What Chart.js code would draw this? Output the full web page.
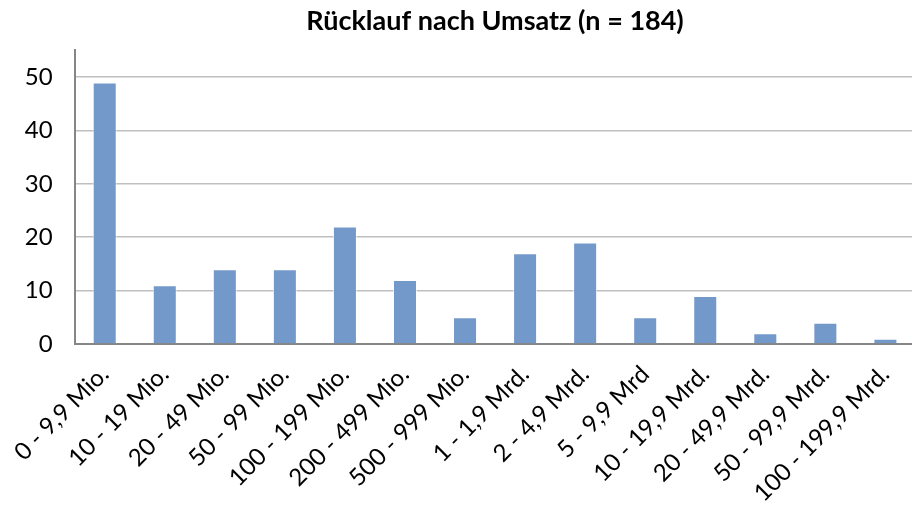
<!DOCTYPE html>
<html>
<head>
<meta charset="utf-8">
<script src="https://cdn.jsdelivr.net/npm/chart.js@4"></script>
<style>
  html, body { margin: 0; padding: 0; background: #fff; overflow: hidden; }
  /* the original plot area runs slightly past the right edge, so the canvas is wider and clipped */
  #wrap { width: 912px; height: 506px; overflow: hidden; }
</style>
</head>
<body>
<div id="wrap"><canvas id="myChart" width="922" height="506"></canvas></div>
<script>
const categories = [
  "0 - 9,9 Mio.", "10 - 19 Mio.", "20 - 49 Mio.", "50 - 99 Mio.",
  "100 - 199 Mio.", "200 - 499 Mio.", "500 - 999 Mio.", "1 - 1,9 Mrd.",
  "2 - 4,9 Mrd.", "5 - 9,9 Mrd", "10 - 19,9 Mrd.", "20 - 49,9 Mrd.",
  "50 - 99,9 Mrd.", "100 - 199,9 Mrd."
];
const counts = [49, 11, 14, 14, 22, 12, 5, 17, 19, 5, 9, 2, 4, 1];
const yTicks = [0, 10, 20, 30, 40, 50];
const chartTitle = "Rücklauf nach Umsatz (n = 184)";

const fontFamily = "Lato, 'Open Sans', sans-serif";

const ctx = document.getElementById("myChart").getContext("2d");

const graphData = {
  type: "bar",
  data: {
    labels: categories,
    datasets: [
      {
        label: "Rücklauf",
        data: counts,
        backgroundColor: "#7399cb",
        borderColor: "rgba(255, 255, 255, 0.7)",
        borderWidth: 1,
        barPercentage: 0.8,
        categoryPercentage: 0.5,
      },
    ],
  },
  options: {
    responsive: false,
    animation: false,
    layout: { padding: { left: 0, right: 0, top: 0, bottom: 0 } },
    plugins: {
      legend: { display: false },
      tooltip: { enabled: false },
      title: {
        display: true,
        fullSize: false,
        text: chartTitle,
        color: "#000",
        font: { family: fontFamily, size: 27, weight: "bold" },
        padding: { top: 5, bottom: 13 },
      },
    },
    scales: {
      x: {
        grid: { display: false, drawTicks: false },
        border: { color: "#868686", width: 2 },
        ticks: {
          color: "#000",
          font: { family: fontFamily, size: 24 },
          minRotation: 45,
          maxRotation: 45,
          autoSkip: false,
          padding: 16,
        },
        afterFit: function (scale) {
          scale.height = 162;
        },
      },
      y: {
        min: 0,
        max: 55,
        grid: { color: "#bfbfbf", lineWidth: 1.5, drawTicks: false },
        border: { color: "#868686", width: 2 },
        ticks: {
          color: "#000",
          font: { family: fontFamily, size: 24 },
          padding: 22,
        },
        afterBuildTicks: function (axis) {
          axis.ticks = yTicks.map(function (v) { return { value: v }; });
        },
        afterFit: function (scale) {
          scale.width = 74;
        },
      },
    },
  },
};

const myChart = new Chart(ctx, graphData);
</script>
</body>
</html>
